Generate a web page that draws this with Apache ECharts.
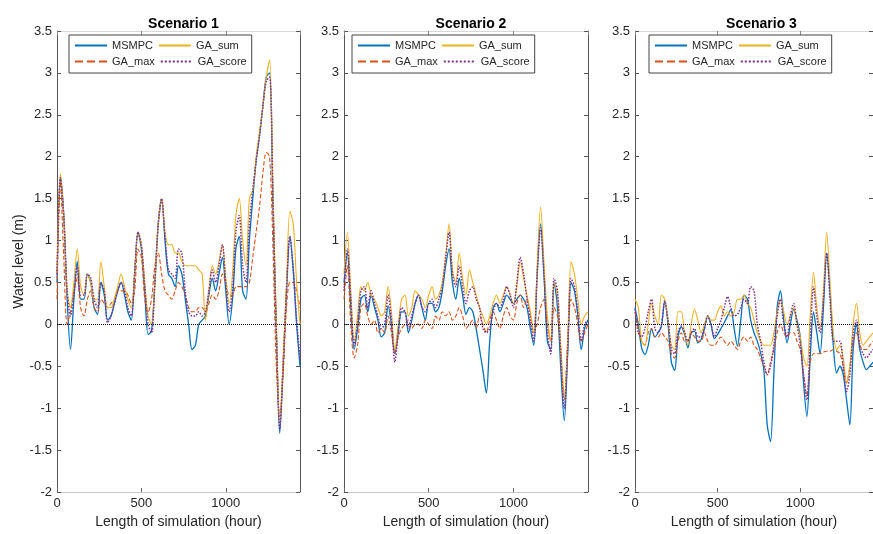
<!DOCTYPE html>
<html>
<head>
<meta charset="utf-8">
<script src="https://cdn.jsdelivr.net/npm/echarts@6/dist/echarts.min.js"></script>
<style>
  html, body { margin: 0; padding: 0; background: #fff; }
  #chart { width: 873px; height: 534px; }
</style>
</head>
<body>
<div id="chart"></div>
<script>
// sampling grid, one point every 20 hours
const hours = Array.from({ length: 73 }, (_, i) => i * 20);

const titles = ['Scenario 1', 'Scenario 2', 'Scenario 3'];
const seriesNames = ['MSMPC', 'GA_max', 'GA_sum', 'GA_score'];
const legendOrder = ['MSMPC', 'GA_sum', 'GA_max', 'GA_score'];

// Scenario 1
const s1Msmpc = [
  0.5, 1.75, 1.3, 0.3, -0.3, 0.3, 0.75, 0.3, 0.3, 0.6,
  0.5, 0.2, 0.12, 0.5, 0.35, 0.05, 0.1, 0.25, 0.4, 0.5,
  0.35, 0.15, 0.05, 0.6, 1.1, 0.9, 0.4, -0.12, -0.08, 0.5,
  1.2, 1.5, 1.0, 0.6, 0.55, 0.45, 0.7, 0.6, 0.3, 0.0,
  -0.3, -0.25, 0.0, 0.05, 0.1, 0.35, 0.55, 0.4, 0.6, 0.8,
  0.4, 0.0, 0.3, 0.9, 1.05, 0.4, 0.3, 1.0, 1.5, 1.95,
  2.25, 2.6, 2.95, 3.0, 1.4, -0.1, -1.3, -0.5, 0.4, 1.05,
  0.65, 0.0, -0.5
];
const s1GaMax = [
  0.3, 1.7, 0.8, 0.0, 0.15, 0.4, 0.55, 0.2, 0.1, 0.3,
  0.4, 0.2, 0.15, 0.3, 0.25, 0.2, 0.25, 0.3, 0.4, 0.4,
  0.4, 0.35, 0.25, 0.4, 0.9, 0.8, 0.3, 0.15, 0.3, 0.7,
  0.85, 0.6, 0.4, 0.35, 0.3, 0.4, 0.5, 0.45, 0.35, 0.2,
  0.15, 0.15, 0.2, 0.2, 0.15, 0.25, 0.35, 0.3, 0.4, 0.6,
  0.5, 0.35, 0.35, 0.45, 0.45, 0.45, 0.45, 0.5, 0.8, 1.1,
  1.4, 1.8, 2.05, 2.0, 0.9, -0.5, -1.1, -0.6, 0.2, 0.5,
  0.5, 0.4, 0.2
];
const s1GaSum = [
  0.6, 1.8, 1.3, 0.4, 0.2, 0.5, 0.9, 0.45, 0.35, 0.6,
  0.5, 0.3, 0.3, 0.75, 0.45, 0.2, 0.2, 0.3, 0.45, 0.6,
  0.45, 0.3, 0.2, 0.6, 1.1, 0.95, 0.5, 0.1, 0.0, 0.5,
  1.2, 1.5, 1.1, 0.95, 0.95, 0.85, 0.85, 0.75, 0.7, 0.7,
  0.7, 0.7, 0.65, 0.6, 0.05, 0.4, 0.7, 0.6, 0.75, 0.95,
  0.55, 0.25, 0.6, 1.3, 1.5, 1.0, 0.7, 1.5, 1.6, 2.0,
  2.3, 2.6, 2.95, 3.15, 1.6, 0.0, -1.2, -0.4, 0.5, 1.35,
  1.2, 0.5, 0.0
];
const s1GaScore = [
  0.6, 1.75, 1.3, 0.4, 0.1, 0.35, 0.7, 0.35, 0.35, 0.6,
  0.55, 0.3, 0.2, 0.5, 0.4, 0.02, 0.1, 0.25, 0.4, 0.5,
  0.4, 0.2, 0.1, 0.6, 1.1, 0.95, 0.45, 0.0, -0.1, 0.5,
  1.2, 1.5, 1.05, 0.65, 0.6, 0.55, 0.9, 0.85, 0.4, 0.15,
  0.1, 0.1, 0.15, 0.1, 0.15, 0.4, 0.65, 0.5, 0.7, 0.95,
  0.5, 0.15, 0.4, 1.1, 1.3, 0.7, 0.5, 1.2, 1.6, 1.95,
  2.25, 2.6, 2.9, 2.95, 1.5, -0.1, -1.25, -0.5, 0.4, 1.05,
  0.65, 0.05, -0.4
];

// Scenario 2
const s2Msmpc = [
  0.5, 0.85, 0.2, -0.3, -0.05, 0.3, 0.35, 0.15, 0.35, 0.2,
  0.05, -0.15, -0.1, 0.22, 0.0, -0.35, -0.1, 0.15, 0.15, -0.1,
  0.05, 0.25, 0.35, 0.2, 0.05, 0.25, 0.25, 0.15, 0.2, 0.4,
  0.7, 0.9, 0.5, 0.3, 0.55, 0.35, 0.12, 0.2, 0.15, -0.05,
  -0.3, -0.55, -0.82, -0.2, 0.2, 0.25, 0.15, 0.25, 0.35, 0.3,
  0.25, 0.3, 0.35, 0.3, 0.2, -0.05, -0.25, 0.6, 1.2, 0.6,
  -0.2, -0.3, 0.5, 0.2, -0.55, -1.15, -0.35, 0.5, 0.4, 0.1,
  -0.3, -0.05, 0.05
];
const s2GaMax = [
  0.3, 0.7, 0.0, -0.4, -0.25, 0.2, 0.25, 0.1, 0.0, 0.05,
  -0.1, -0.05, -0.1, 0.1, -0.1, -0.35, -0.15, -0.05, 0.0, 0.05,
  -0.05, 0.0, 0.0, -0.05, 0.05, 0.0, -0.05, 0.1, 0.05, 0.15,
  0.1, 0.15, 0.05, 0.1, 0.2, 0.1, -0.05, 0.0, 0.05, -0.05,
  0.1, 0.0, -0.1, 0.05, 0.15, 0.05, -0.05, 0.1, 0.2, 0.1,
  0.05, 0.25, 0.35, 0.2, 0.3, 0.1, -0.1, 0.0, 0.2, 0.3,
  0.0, -0.2, 0.2, 0.1, -0.3, -0.9, -0.2, 0.3, 0.2, 0.0,
  -0.2, -0.1, 0.0
];
const s2GaSum = [
  0.6, 1.1, 0.4, -0.2, 0.1, 0.45, 0.4, 0.5, 0.35, 0.3,
  0.2, 0.1, 0.15, 0.45, 0.15, -0.3, 0.0, 0.3, 0.35, 0.1,
  0.2, 0.4, 0.35, 0.3, 0.2, 0.35, 0.45, 0.3, 0.35, 0.5,
  0.8, 1.2, 0.65, 0.5, 0.85, 0.55, 0.35, 0.65, 0.5, 0.35,
  0.2, 0.1, 0.0, 0.1, 0.25, 0.35, 0.25, 0.35, 0.45, 0.35,
  0.25, 0.45, 0.75, 0.55, 0.35, 0.15, -0.1, 0.7, 1.4, 0.75,
  0.1, -0.2, 0.5, 0.35, -0.3, -0.9, -0.2, 0.75, 0.6, 0.3,
  0.0, 0.1, 0.15
];
const s2GaScore = [
  0.4, 0.9, 0.3, -0.25, 0.0, 0.4, 0.45, 0.2, 0.4, 0.25,
  0.1, -0.05, 0.0, 0.35, 0.05, -0.45, -0.1, 0.2, 0.15, -0.05,
  0.1, 0.25, 0.35, 0.2, 0.15, 0.25, 0.3, 0.2, 0.3, 0.45,
  0.8, 1.1, 0.6, 0.45, 0.7, 0.45, 0.25, 0.4, 0.45, 0.3,
  0.2, -0.05, -0.1, -0.05, 0.15, 0.25, 0.2, 0.3, 0.45, 0.35,
  0.2, 0.5, 0.8, 0.6, 0.3, 0.05, -0.2, 0.6, 1.15, 0.6,
  -0.1, -0.35, 0.55, 0.4, -0.4, -1.0, -0.3, 0.55, 0.45, 0.15,
  -0.2, 0.0, 0.05
];

// Scenario 3
const s3Msmpc = [
  0.2, 0.0, -0.28, -0.36, -0.25, -0.05, -0.15, -0.1, -0.02, 0.28,
  0.0, -0.45, -0.55, -0.15, -0.03, -0.12, -0.28, -0.1, -0.08, -0.22,
  -0.18, -0.05, 0.1, 0.0, -0.17, -0.12, -0.05, 0.02, 0.1, 0.18,
  -0.05, -0.26, 0.05, 0.35, 0.3, 0.05, -0.1, -0.2, -0.34, -0.55,
  -1.2, -1.4, -0.6, 0.2, 0.4, 0.05, -0.22, 0.0, 0.18, 0.05,
  -0.15, -0.7, -1.1, -0.4, 0.15, -0.1, -0.35, 0.2, 0.85, 0.4,
  -0.25, -0.58, -0.5, -0.6, -0.9, -1.2, -0.3, 0.0, -0.3, -0.45,
  -0.54, -0.5, -0.45
];
const s3GaMax = [
  0.15, -0.05, -0.2, -0.25, -0.1, -0.05, -0.15, -0.15, -0.1, -0.15,
  -0.2, -0.35, -0.4, -0.2, -0.1, -0.2, -0.2, -0.1, -0.15, -0.2,
  -0.2, -0.1, -0.2, -0.25, -0.25, -0.2, -0.15, -0.2, -0.25, -0.2,
  -0.25, -0.3, -0.2, -0.15, -0.2, -0.15, -0.25, -0.3, -0.4, -0.5,
  -0.6, -0.45, -0.3, -0.1, 0.0, -0.1, -0.15, -0.1, -0.1, -0.2,
  -0.3, -0.6, -0.85, -0.45, -0.35, -0.35, -0.35, -0.33, -0.32, -0.32,
  -0.3, -0.32, -0.35, -0.5, -0.7, -0.5, -0.2, -0.1, -0.25, -0.3,
  -0.3, -0.25, -0.2
];
const s3GaSum = [
  0.3, 0.2, -0.2, -0.25, 0.0, 0.25, 0.1, 0.0, 0.35, 0.3,
  0.05, -0.25, -0.3, 0.15, 0.15, -0.1, -0.25, 0.0, 0.18, 0.05,
  -0.1, 0.0, 0.1, 0.05, 0.05, 0.15, 0.22, 0.1, 0.15, 0.1,
  0.15, 0.3, 0.3, 0.35, 0.25, 0.2, 0.05, -0.1, -0.2, -0.25,
  -0.25, -0.25, -0.1, 0.15, 0.3, 0.15, 0.0, 0.1, 0.2, 0.0,
  -0.15, -0.4, -0.5, 0.1, 0.62, 0.2, -0.05, 0.4, 1.1, 0.5,
  -0.1, -0.3, -0.25, -0.4, -0.7, -0.5, 0.0, 0.25, -0.1, -0.25,
  -0.2, -0.15, -0.1
];
const s3GaScore = [
  0.18, -0.1, -0.15, -0.05, 0.15, 0.3, -0.05, -0.1, 0.0, 0.28,
  0.05, -0.3, -0.35, -0.1, -0.02, -0.1, -0.2, -0.1, -0.05, -0.15,
  -0.15, -0.05, 0.1, 0.0, -0.15, -0.05, 0.05, 0.2, 0.33, 0.2,
  0.1, 0.12, 0.2, 0.3, 0.25, 0.45, 0.4, 0.0, -0.2, -0.45,
  -0.6, -0.5, -0.25, 0.1, 0.3, 0.0, -0.15, 0.1, 0.25, 0.0,
  -0.25, -0.6, -0.9, -0.2, 0.45, 0.1, -0.1, 0.3, 0.85, 0.3,
  -0.2, -0.2, -0.2, -0.5, -0.8, -0.6, -0.1, 0.05, -0.25, -0.35,
  -0.4, -0.35, -0.3
];

const panels = [
  [s1Msmpc, s1GaMax, s1GaSum, s1GaScore],
  [s2Msmpc, s2GaMax, s2GaSum, s2GaScore],
  [s3Msmpc, s3GaMax, s3GaSum, s3GaScore]
];

const styles = {
  MSMPC:    { color: '#0072BD', type: 'solid',  width: 1.3 },
  GA_max:   { color: '#D95319', type: 'dashed', width: 1.1 },
  GA_sum:   { color: '#EDB120', type: 'solid',  width: 1.1 },
  GA_score: { color: '#7E2F8E', type: 'dotted', width: 1.5 }
};

const gridLeft = [57, 344, 635];
const gridWidth = [243, 244, 243];
const legendLeft = [69, 352, 649];
const textColor = '#262626';

const chart = echarts.init(document.getElementById('chart'));

const grid = [], xAxis = [], yAxis = [], series = [], title = [], legend = [];

panels.forEach((panel, i) => {
  grid.push({ left: gridLeft[i], top: 31, width: gridWidth[i], height: 462 });

  title.push({
    text: titles[i],
    left: gridLeft[i] + gridWidth[i] / 2,
    top: 12,
    textAlign: 'center',
    textStyle: { fontSize: 14, fontWeight: 'bold', color: '#000' }
  });

  // bottom axis
  xAxis.push({
    type: 'value', gridIndex: i, position: 'bottom',
    min: 0, max: 1440, interval: 500,
    name: 'Length of simulation (hour)',
    nameLocation: 'middle', nameGap: 23,
    nameTextStyle: { fontSize: 14, color: textColor },
    axisLine: { show: true, onZero: false, lineStyle: { color: '#c8c8c8', width: 1 } },
    axisTick: { inside: true, length: 4, lineStyle: { color: '#666' } },
    axisLabel: {
      showMaxLabel: false, margin: 5, fontSize: 13, color: textColor,
      formatter: v => String(v)
    },
    splitLine: { show: false }
  });
  // top edge of box
  xAxis.push({
    type: 'value', gridIndex: i, position: 'top',
    min: 0, max: 1440, interval: 500,
    axisLine: { show: true, onZero: false, lineStyle: { color: '#d8d8d8', width: 1 } },
    axisTick: { inside: true, length: 4, lineStyle: { color: '#888' } },
    axisLabel: { show: false },
    splitLine: { show: false }
  });

  yAxis.push({
    type: 'value', gridIndex: i, position: 'left',
    min: -2, max: 3.5, interval: 0.5,
    name: i === 0 ? 'Water level (m)' : '',
    nameLocation: 'middle', nameGap: 30,
    nameTextStyle: { fontSize: 14, color: textColor },
    axisLine: { show: true, onZero: false, lineStyle: { color: '#555', width: 1 } },
    axisTick: { inside: true, length: 4, lineStyle: { color: '#555' } },
    axisLabel: { margin: 5, fontSize: 13, color: textColor },
    splitLine: { show: false }
  });
  // right edge of box
  yAxis.push({
    type: 'value', gridIndex: i, position: 'right',
    min: -2, max: 3.5, interval: 0.5,
    axisLine: { show: true, onZero: false, lineStyle: { color: '#555', width: 1 } },
    axisTick: { inside: true, length: 4, lineStyle: { color: '#555' } },
    axisLabel: { show: false },
    splitLine: { show: false }
  });

  panel.forEach((vals, k) => {
    const name = seriesNames[k];
    const st = styles[name];
    const s = {
      name: name,
      type: 'line',
      xAxisIndex: i * 2,
      yAxisIndex: i * 2,
      data: hours.map((h, j) => [h, vals[j]]),
      symbol: 'none',
      smooth: 0.3,
      animation: false,
      lineStyle: { color: st.color, type: st.type, width: st.width },
      itemStyle: { color: st.color }
    };
    if (k === 0) {
      // dotted zero line
      s.markLine = {
        silent: true, symbol: 'none', animation: false,
        label: { show: false },
        lineStyle: { color: '#000', type: 'dotted', width: 1 },
        data: [{ yAxis: 0 }]
      };
    }
    series.push(s);
  });

  legend.push({
    data: legendOrder,
    left: legendLeft[i], top: 35, width: 180,
    orient: 'horizontal',
    itemWidth: 32, itemHeight: 12, itemGap: 5,
    padding: [5, 5, 6, 5],
    backgroundColor: '#fff',
    borderColor: '#444', borderWidth: 1, borderRadius: 0,
    selectedMode: false,
    itemStyle: { opacity: 0 },
    textStyle: { fontSize: 11, color: textColor, width: 44 }
  });
});

const option = {
  animation: false,
  backgroundColor: '#fff',
  textStyle: { fontFamily: '"Liberation Sans", Arial, sans-serif' },
  title: title,
  legend: legend,
  grid: grid,
  xAxis: xAxis,
  yAxis: yAxis,
  series: series
};

chart.setOption(option);
</script>
</body>
</html>
